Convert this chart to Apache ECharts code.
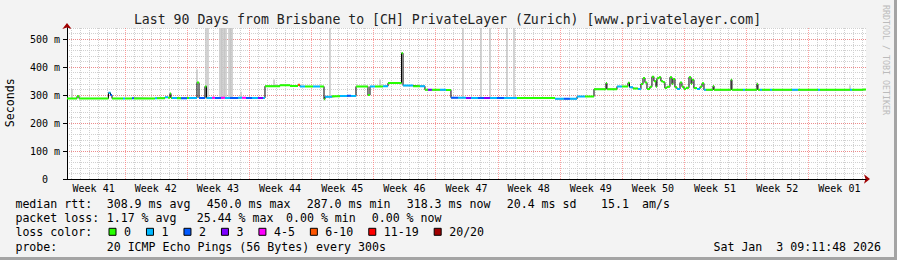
<!DOCTYPE html>
<html><head><meta charset="utf-8">
<script src="https://cdn.jsdelivr.net/npm/echarts@6/dist/echarts.min.js"></script>
<style>html,body{margin:0;padding:0;background:#f3f3f3}#c{width:897px;height:260px}</style>
</head><body><div id="c"></div>
<script>
// ---- data (x in days since graph start, values in ms) ----
const END_DAY = 90;
const weekLabels = ['Week 41','Week 42','Week 43','Week 44','Week 45','Week 46','Week 47','Week 48','Week 49','Week 50','Week 51','Week 52','Week 01'];
const weekLabelDays = [3.0,10.0,17.0,24.0,31.0,38.0,45.0,52.0,59.0,66.0,73.0,80.0,87.0];
const weekStartDays = [6.5,13.5,20.5,27.5,34.5,41.5,48.5,55.5,62.5,69.5,76.5,83.5];
const firstMidnight = 0.5;
const yTicks = [0,100,200,300,400,500];

const segStart = [0.00,1.13,1.35,4.67,4.90,5.07,6.31,6.53,7.32,7.55,9.91,10.14,11.04,11.38,11.60,11.71,11.83,12.39,12.84,13.52,
  13.74,14.64,14.87,15.54,15.71,16.33,16.67,17.35,17.80,18.36,19.26,19.71,20.16,20.84,21.51,22.08,22.30,23.99,25.12,26.02,
  26.24,26.81,27.71,28.50,28.95,29.06,29.85,30.75,31.54,31.99,32.55,33.90,34.13,34.69,35.59,36.16,37.68,37.85,38.98,39.76,
  40.32,40.66,41.11,42.01,42.69,43.25,44.04,44.94,45.51,46.29,46.97,47.65,48.43,49.22,50.69,54.97,55.98,56.66,57.45,58.35,
  59.36,60.71,60.82,61.95,62.51,63.19,63.36,63.75,64.31,64.65,64.88,65.10,65.33,65.66,65.89,66.11,66.34,66.45,66.68,66.90,
  67.13,67.35,67.58,67.92,68.14,68.26,68.48,68.71,69.05,69.27,69.50,69.72,70.06,70.29,70.40,70.62,70.96,71.30,71.53,71.75,
  71.98,72.77,72.88,74.79,74.90,76.14,76.37,77.72,77.83,78.06,78.28,79.19,79.41,81.66,82.34,84.59,84.82,88.20,88.42,89.66];
const segRtt = [288,296,288,308,300,288,288,288,289,288,289,289,292,291,306,290,290,289,289,290,
  290,345,290,331,290,291,290,291,290,290,291,291,290,290,290,290,332,335,333,337,
  331,331,331,331,285,294,296,297,298,297,331,300,331,331,332,343,450,334,332,332,
  319,319,319,319,318,291,291,290,290,290,290,290,290,290,290,287,287,287,295,295,
  321,343,321,331,331,344,328,324,322,340,361,345,322,330,366,350,330,360,364,350,
  346,325,330,364,340,358,328,322,345,330,322,326,364,340,355,325,322,330,342,319,
  319,333,319,355,319,319,319,340,319,319,319,319,319,319,319,319,319,319,319,320];
const segLoss = [0,0,0,1,2,0,1,0,2,0,1,0,1,0,0,0,1,0,2,0,
  1,0,2,0,1,4,2,4,1,2,1,4,2,1,3,1,0,0,0,5,
  1,0,1,0,0,1,0,1,2,1,0,0,1,0,1,0,0,1,0,1,
  0,3,0,1,0,2,1,3,1,2,3,1,2,1,0,1,2,1,1,0,
  0,0,0,1,0,0,1,0,1,0,0,0,0,0,0,0,0,0,0,0,
  0,0,0,0,0,0,0,1,0,0,0,0,0,0,0,0,1,0,0,1,
  0,0,0,0,0,1,0,0,0,1,0,1,0,1,0,1,0,1,0,0];

const smokeTimes = [0.56,14.64,15.66,15.88,17.23,17.40,17.57,17.74,17.91,18.25,18.42,18.59,19.60,23.32,29.62,35.26,44.60,46.63,47.65,49.56,50.35,77.72,88.20];
const smokeLow   = [288,345,290,290,290,290,290,290,290,290,290,290,291,334,296,331,290,290,290,290,290,330,320];
const smokeHigh  = [322,392,540,540,540,540,540,540,540,540,540,540,312,356,540,356,540,540,540,540,540,346,335];

const lossNames  = ['0','1','2','3','4-5','6-10','11-19','20/20'];
const lossColors = ['#26ff00','#00b8ff','#0059ff','#7e00ff','#ff00ff','#ff5500','#ff0000','#a00000'];

// ---- build ----
const FONT = '"DejaVu Sans Mono", monospace';
function classData(c) {
  const out = [];
  for (let i = 0; i < segStart.length; i++) {
    if (segLoss[i] !== c) continue;
    const t1 = i + 1 < segStart.length ? segStart[i + 1] : END_DAY;
    out.push([segStart[i], segRtt[i]], [t1, segRtt[i]], [t1, '-']);
  }
  return out;
}
const medianData = segStart.map((t, i) => [t, segRtt[i]]).concat([[END_DAY, segRtt[segRtt.length - 1]]]);

const gridDays = [];
for (let d = firstMidnight; d < END_DAY; d += 1) {
  const isWeek = weekStartDays.some(w => Math.abs(w - d) < 1e-6);
  gridDays.push([d, isWeek ? 1 : 0]);
}

const series = [
  {type: 'custom', name: 'vgrid', z: 1, silent: true, data: gridDays, encode: {x: 0},
   renderItem: (params, api) => {
     const cs = params.coordSys;
     const x = Math.round(api.coord([api.value(0), 0])[0]) + 0.5;
     const major = api.value(1) === 1;
     return {type: 'line', shape: {x1: x, y1: cs.y, x2: x, y2: cs.y + cs.height},
       style: {stroke: major ? 'rgba(255,95,95,0.6)' : '#d0d0d0', lineWidth: 1, lineDash: [1, 1]}};
   }},
  {type: 'custom', name: 'smoke', z: 2, silent: true,
   data: smokeTimes.map((t, i) => [t, smokeLow[i], smokeHigh[i]]),
   encode: {x: 0, y: [1, 2]},
   renderItem: (params, api) => {
     const a = api.coord([api.value(0), api.value(2)]);
     const b = api.coord([api.value(0), api.value(1)]);
     return {type: 'rect', shape: {x: a[0] - 0.75, y: a[1], width: 1.5, height: b[1] - a[1]}, style: {fill: '#c6c6c6'}};
   }},
  {type: 'line', name: 'median', data: medianData, step: 'end', z: 3, silent: true,
   showSymbol: false, symbol: 'none', lineStyle: {color: '#000', width: 1}, itemStyle: {color: '#000'}}
];
lossNames.forEach((n, c) => series.push({
  type: 'line', name: n, data: classData(c), z: 4, silent: true, connectNulls: false,
  showSymbol: false, symbol: 'none', color: lossColors[c],
  lineStyle: {color: lossColors[c], width: 2, cap: 'butt'}, itemStyle: {color: lossColors[c]}
}));

function txt(x, y, s, opt) {
  return Object.assign({type: 'text', x: x, y: y, silent: true,
    style: Object.assign({text: s, fontFamily: FONT, fontSize: 11.6, fill: '#000',
      align: 'left', textAlign: 'left', verticalAlign: 'middle', textVerticalAlign: 'middle'}, (opt && opt.style) || {})},
    opt && opt.rotation !== undefined ? {rotation: opt.rotation} : {});
}
const line1 = [[15.4,'median rtt:'],[106.7,'308.9 ms avg'],[206.7,'450.0 ms max'],[306.7,'287.0 ms min'],[406.7,'318.3 ms now'],[506.7,'20.4 ms sd'],[601,'15.1'],[642,'am/s']];
const line2 = [[15.4,'packet loss:'],[106.7,'1.17 % avg'],[196.7,'25.44 % max'],[286,'0.00 % min'],[371.7,'0.00 % now']];
const graphics = [
  {type: 'rect', shape: {x: 894, y: 0, width: 3, height: 260}, style: {fill: '#a4a4a4'}, silent: true},
  {type: 'rect', shape: {x: 0, y: 257, width: 897, height: 3}, style: {fill: '#a4a4a4'}, silent: true},
  txt(447.5, 19.3, 'Last 90 Days from Brisbane to [CH] PrivateLayer (Zurich) [www.privatelayer.com]',
      {style: {fontSize: 13.2, fill: '#222', align: 'center', textAlign: 'center'}}),
  txt(10, 102.7, 'Seconds', {rotation: Math.PI / 2, style: {align: 'center', textAlign: 'center'}}),
  txt(886, 60, 'RRDTOOL / TOBI OETIKER', {rotation: -Math.PI / 2, style: {fontSize: 8.3, fill: '#bbbbbb', align: 'center', textAlign: 'center'}})
];
line1.forEach(p => graphics.push(txt(p[0], 204.3, p[1])));
line2.forEach(p => graphics.push(txt(p[0], 218.3, p[1])));
graphics.push(txt(15.4, 232.3, 'loss color:'));
graphics.push(txt(15.4, 246.7, 'probe:'));
graphics.push(txt(106.7, 246.7, '20 ICMP Echo Pings (56 Bytes) every 300s'));
graphics.push(txt(881, 246.7, 'Sat Jan\u00a0\u00a03 09:11:48 2026', {style: {align: 'right', textAlign: 'right'}}));

const chart = echarts.init(document.getElementById('c'), null, {renderer: 'svg'});
chart.setOption({
  animation: false,
  backgroundColor: '#f3f3f3',
  textStyle: {fontFamily: FONT},
  grid: {left: 67, right: 31, top: 28, bottom: 81, show: true, backgroundColor: '#ffffff', borderWidth: 0, outerBoundsMode: 'none'},
  legend: {
    left: 108.5, top: 225.8, padding: 0, itemWidth: 7, itemHeight: 7, itemGap: 15, icon: 'rect',
    selectedMode: false, data: lossNames,
    textStyle: {fontFamily: FONT, fontSize: 11.6, color: '#000', padding: [0, 0, 0, 3]},
    itemStyle: {borderColor: '#000', borderWidth: 1}
  },
  xAxis: [
    {type: 'value', min: 0, max: END_DAY, z: 1,
     axisLine: {show: true, onZero: false, lineStyle: {color: '#000', width: 1}},
     axisTick: {show: false}, splitLine: {show: false},
     axisLabel: {show: true, customValues: weekLabelDays, margin: 4, fontSize: 10, fontFamily: FONT, color: '#000',
       formatter: v => { const i = weekLabelDays.findIndex(w => Math.abs(w - v) < 1e-6); return i >= 0 ? weekLabels[i] : ''; }}},
    {type: 'value', min: 0, max: END_DAY, z: 0, position: 'bottom',
     axisLine: {show: true, onZero: false, symbol: ['none', 'arrow'], symbolSize: [7, 6], symbolOffset: [0, 4], lineStyle: {color: '#a00000', width: 1}},
     axisTick: {show: false}, axisLabel: {show: false}, splitLine: {show: false}}
  ],
  yAxis: [
    {type: 'value', min: 0, max: 540, interval: 100, z: 1,
     axisLine: {show: true, onZero: false, lineStyle: {color: '#000', width: 1}},
     axisTick: {show: true, length: 4, lineStyle: {color: '#000'}},
     axisLabel: {show: true, margin: 7, fontSize: 10, fontFamily: FONT, color: '#000', showMaxLabel: false,
       formatter: v => yTicks.indexOf(v) < 0 ? '' : (v === 0 ? '0\u00a0\u00a0' : v + ' m')},
     splitLine: {show: true, showMaxLine: false, showMinLine: false, lineStyle: {color: 'rgba(255,95,95,0.6)', type: [1, 1], width: 1}}},
    {type: 'value', min: 0, max: 540, interval: 20, z: 0, position: 'left',
     axisLine: {show: true, onZero: false, symbol: ['none', 'arrow'], symbolSize: [7, 6], symbolOffset: [0, 5], lineStyle: {color: '#a00000', width: 1}},
     axisTick: {show: false}, axisLabel: {show: false},
     splitLine: {show: true, showMinLine: false, lineStyle: {color: '#d0d0d0', type: [1, 1], width: 1}}}
  ],
  series: series,
  graphic: graphics
});
</script></body></html>
